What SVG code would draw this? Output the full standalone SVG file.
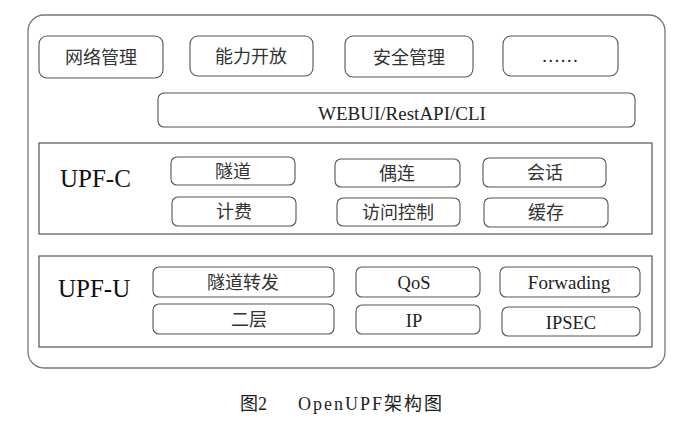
<svg xmlns="http://www.w3.org/2000/svg" width="694" height="423" viewBox="0 0 694 423">
<style>
.frame{fill:#fff;stroke:#777;stroke-width:1.3}
.box{fill:#fff;stroke:#555;stroke-width:1.1}
.layer{fill:#fff;stroke:#555;stroke-width:1.2}
.t{font-family:"Liberation Serif","Noto Sans CJK SC",serif;font-size:18.5px;fill:#222;text-anchor:middle}
.cn{font-family:"Noto Sans CJK SC","Liberation Serif",sans-serif;font-size:18px;fill:#333;text-anchor:middle}
.big{font-family:"Liberation Serif",serif;font-size:25px;fill:#111}
.cap{font-family:"Liberation Serif","Noto Sans CJK SC",serif;font-size:18px;fill:#222}
</style>
<rect width="694" height="423" fill="#fff"/>
<rect class="frame" x="28" y="15" width="637" height="353" rx="16"/>
<g id="n-wlgl"><rect class="box" x="39" y="36" width="124" height="42" rx="8"/><text class="cn" x="101" y="64">网络管理</text></g>
<g id="n-nlkf"><rect class="box" x="190" y="36" width="123" height="40" rx="8"/><text class="cn" x="251" y="63">能力开放</text></g>
<g id="n-aqgl"><rect class="box" x="345" y="36" width="128" height="41" rx="8"/><text class="cn" x="409" y="64">安全管理</text></g>
<g id="n-more"><rect class="box" x="503" y="36" width="115" height="40" rx="8"/><text class="t" x="560" y="62">……</text></g>
<g id="n-webui"><rect class="box" x="158" y="93" width="477" height="34" rx="6"/><text class="t" x="402" y="120" style="font-size:19px">WEBUI/RestAPI/CLI</text></g>
<g id="upf-c">
<rect class="layer" x="39" y="143" width="613" height="91"/>
<text class="big" x="60" y="187">UPF-C</text>
</g>
<g id="n-sd"><rect class="box" x="171" y="157" width="124" height="28" rx="6"/><text class="cn" x="233" y="178">隧道</text></g>
<g id="n-ol"><rect class="box" x="335" y="159" width="125" height="28" rx="6"/><text class="cn" x="397" y="180">偶连</text></g>
<g id="n-hh"><rect class="box" x="483" y="158" width="123" height="29" rx="6"/><text class="cn" x="545" y="179">会话</text></g>
<g id="n-jf"><rect class="box" x="172" y="197" width="124" height="29" rx="6"/><text class="cn" x="234" y="218">计费</text></g>
<g id="n-fwkz"><rect class="box" x="337" y="198" width="123" height="28" rx="6"/><text class="cn" x="398" y="219">访问控制</text></g>
<g id="n-hc"><rect class="box" x="484" y="198" width="124" height="29" rx="6"/><text class="cn" x="546" y="219">缓存</text></g>
<g id="upf-u">
<rect class="layer" x="39" y="256" width="613" height="91"/>
<text class="big" x="58" y="297">UPF-U</text>
</g>
<g id="n-sdzf"><rect class="box" x="153" y="267" width="181" height="30" rx="6"/><text class="cn" x="243" y="289">隧道转发</text></g>
<g id="n-ec"><rect class="box" x="153" y="304" width="181" height="30" rx="6"/><text class="cn" x="249" y="326">二层</text></g>
<g id="n-qos"><rect class="box" x="356" y="267" width="124" height="30" rx="6"/><text class="t" x="414" y="289">QoS</text></g>
<g id="n-ip"><rect class="box" x="356" y="305" width="124" height="29" rx="6"/><text class="t" x="414" y="327">IP</text></g>
<g id="n-fwd"><rect class="box" x="500" y="267" width="140" height="30" rx="6"/><text class="t" x="569" y="289" style="font-size:19px">Forwading</text></g>
<g id="n-ipsec"><rect class="box" x="502" y="307" width="138" height="29" rx="6"/><text class="t" x="571" y="329">IPSEC</text></g>
<g id="connectors"></g>
<text class="cap" x="240" y="410">图2</text>
<text class="cap" x="298" y="410" letter-spacing="2">OpenUPF架构图</text>
</svg>
